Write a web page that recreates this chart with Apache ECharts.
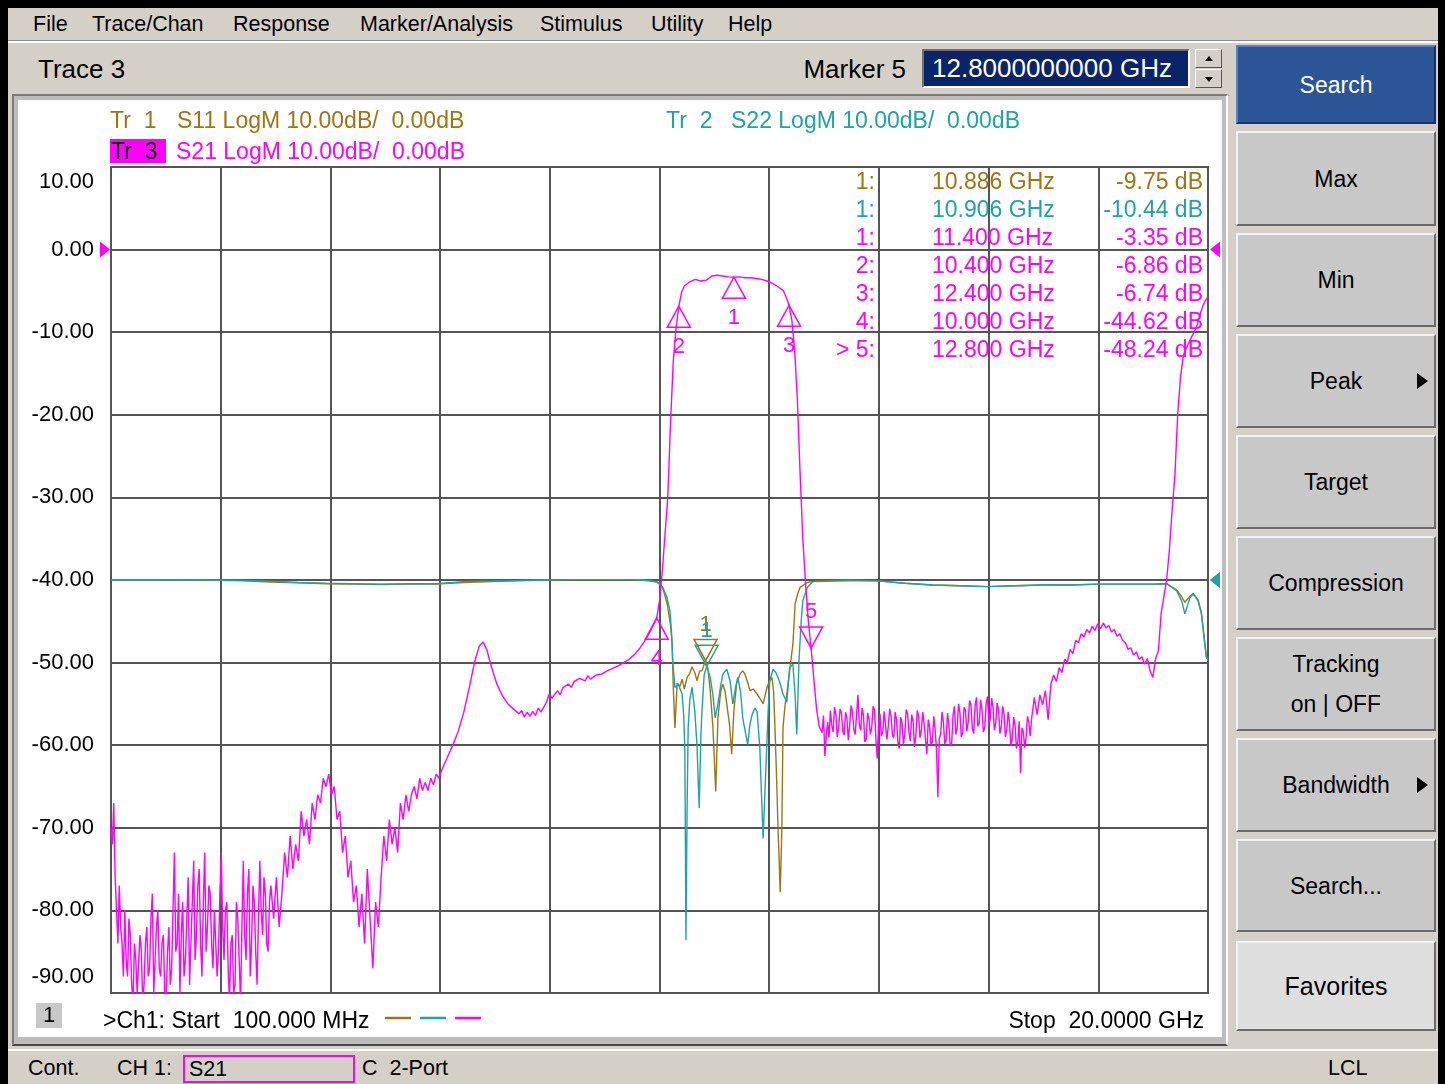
<!DOCTYPE html>
<html>
<head>
<meta charset="utf-8">
<title>PNA - S21 sweep</title>
<script src="https://cdn.jsdelivr.net/npm/echarts@6/dist/echarts.min.js"></script>
<style>
  body { margin: 0; width: 1445px; height: 1084px; background: #000; overflow: hidden;
         font-family: "Liberation Sans", Arial, sans-serif; color: #000; }
  .abs { position: absolute; white-space: nowrap; }
  #win { position: absolute; left: 8px; top: 8px; width: 1430px; height: 1076px; background: #d4d0c8; }
  #menuSep { position: absolute; left: 8px; top: 40px; width: 1430px; height: 1px; background: #8a8a8a; border-bottom: 2px solid #fff; }
  .menu { top: 11px; font-size: 21.5px; line-height: 26px; }
  .big { font-size: 26px; line-height: 30px; }
  #mkBox { left: 922px; top: 49px; width: 268px; height: 39px; box-sizing: border-box; background: #0a246a; color: #fff;
           border: 2px solid; border-color: #6f6f6f #fff #fff #6f6f6f; padding-left: 8px; font-size: 26px; line-height: 34px; }
  .spin { left: 1195px; width: 27px; height: 19px; box-sizing: border-box; background: #d4d0c8;
          border: 1px solid; border-color: #fff #555 #555 #fff; }
  .spin i { position: absolute; left: 9px; width: 0; height: 0; border-left: 4px solid transparent; border-right: 4px solid transparent; }
  .btn { position: absolute; left: 1236px; width: 200px; box-sizing: border-box; background: #c8c8c8;
         border: 2px solid; border-color: #f2f2f2 #6a6a6a #6a6a6a #f2f2f2; font-size: 23px;
         display: flex; align-items: center; justify-content: center; text-align: center; line-height: 40px; }
  .btn .arr { position: absolute; right: 6px; top: 50%; margin-top: -8px; width: 0; height: 0;
              border-top: 8px solid transparent; border-bottom: 8px solid transparent; border-left: 11px solid #000; }
  #chartWin { position: absolute; left: 12px; top: 94px; width: 1216px; height: 952px; box-sizing: border-box;
              background: #bdbdbd; border: 2px solid; border-color: #7a7a7a #fff #4a4a4a #7a7a7a; }
  #chart { position: absolute; left: 18px; top: 100px; width: 1204px; height: 937px; background: #fff; }
  #status { position: absolute; left: 8px; top: 1049px; width: 1430px; height: 35px; background: #d4d0c8; border-top: 2px solid #fff; }
  .st { top: 1055px; font-size: 21.5px; line-height: 26px; }
  #measBox { left: 183px; top: 1055px; width: 172px; height: 28px; box-sizing: border-box; border: 2px solid #ff00ff; padding-left: 4px; font-size: 21.5px; line-height: 24px; }
</style>
</head>
<body>
<div id="win"></div>
<div id="menuSep"></div>
<div id="menuBar"></div>
<div class="abs big" style="left:38px;top:54px;">Trace 3</div>
<div class="abs big" style="left:700px;width:206px;text-align:right;top:54px;">Marker 5</div>
<div class="abs" id="mkBox">12.8000000000 GHz</div>
<div class="abs spin" style="top:49px;"><i style="top:6px;border-bottom:5px solid #000;"></i></div>
<div class="abs spin" style="top:69px;"><i style="top:7px;border-top:5px solid #000;"></i></div>
<div id="panel"></div>
<div id="chartWin"></div>
<div id="chart"></div>
<div id="status"></div>
<div class="abs st" style="left:28px;">Cont.</div>
<div class="abs st" style="left:117px;">CH 1:</div>
<div class="abs" id="measBox">S21</div>
<div class="abs st" style="left:362px;">C&nbsp; 2-Port</div>
<div class="abs st" style="left:1328px;">LCL</div>

<script>
// ---- sweep / scale settings ----
const startGHz = 0.1;
const stopGHz = 20;
const scaleMin = -90;     // S21 scale, 10 dB/div, ref 0 dB at 9th line
const scaleMax = 10;
const reflMin = -50;      // S11/S22 scale, 10 dB/div, ref 0 dB at center line
const reflMax = 50;

// ---- menus and softkeys ----
const menuItems = ['File', 'Trace/Chan', 'Response', 'Marker/Analysis', 'Stimulus', 'Utility', 'Help'];
const menuX = [33, 92, 233, 360, 540, 651, 728];
const softkeys = ['Search', 'Max', 'Min', 'Peak', 'Target', 'Compression', 'Tracking<br>on | OFF', 'Bandwidth', 'Search...', 'Favorites'];
const softkeyTop = [45, 131, 233, 334, 435, 536, 637, 738, 839, 941];
const softkeyH = [79, 95, 94, 94, 94, 94, 94, 94, 93, 90];
const softkeyArrow = [false, false, false, true, false, false, false, true, false, false];

// ---- traces (GHz, dB) ----
const s21 = [
  [0.100,-70],[0.125,-72],[0.150,-67],[0.175,-76],[0.200,-80],[0.225,-84],[0.250,-77],[0.275,-82],[0.300,-84],[0.325,-88],
  [0.350,-80],[0.375,-86],[0.400,-88],[0.425,-81],[0.450,-83],[0.475,-89],[0.500,-91],[0.525,-84],[0.550,-86],[0.575,-90],
  [0.600,-90],[0.625,-83],[0.650,-85],[0.675,-91],[0.700,-89],[0.725,-84],[0.750,-82],[0.775,-88],[0.800,-87],[0.825,-81],
  [0.850,-78],[0.875,-90],[0.900,-86],[0.925,-82],[0.950,-80],[0.975,-87],[1.000,-88],[1.025,-84],[1.050,-83],[1.075,-90],
  [1.100,-91],[1.125,-85],[1.150,-82],[1.175,-89],[1.200,-87],[1.225,-80],[1.250,-73],[1.275,-85],[1.300,-84],[1.325,-78],
  [1.350,-90],[1.375,-83],[1.400,-79],[1.425,-88],[1.450,-86],[1.475,-81],[1.500,-76],[1.525,-89],[1.550,-84],[1.575,-79],
  [1.600,-74],[1.625,-86],[1.650,-83],[1.675,-77],[1.700,-75],[1.725,-84],[1.750,-88],[1.775,-79],[1.800,-73],[1.825,-85],
  [1.850,-82],[1.875,-77],[1.900,-78],[1.925,-84],[1.950,-87],[1.975,-80],[2.000,-80],[2.025,-88],[2.050,-85],[2.075,-78],
  [2.100,-73],[2.125,-82],[2.150,-86],[2.175,-80],[2.200,-79],[2.225,-87],[2.250,-91],[2.275,-84],[2.300,-83],[2.325,-90],
  [2.350,-89],[2.375,-79],[2.400,-81],[2.425,-86],[2.450,-91],[2.475,-82],[2.500,-74],[2.525,-83],[2.550,-86],[2.575,-78],
  [2.600,-75],[2.625,-88],[2.650,-84],[2.675,-77],[2.700,-79],[2.725,-85],[2.750,-89],[2.775,-81],[2.800,-74],[2.825,-80],
  [2.850,-83],[2.875,-76],[2.900,-78],[2.925,-84],[2.950,-85],[2.975,-79],[3.000,-77],[3.05,-81],
  [3.10,-76],[3.15,-82],[3.20,-78],[3.25,-73],[3.30,-76],[3.35,-71],[3.40,-75],[3.45,-72],[3.50,-74],[3.55,-68],
  [3.60,-71],[3.65,-69],[3.70,-72],[3.75,-67],[3.80,-69],[3.85,-66],[3.90,-67],[3.95,-64],[4.00,-65],[4.05,-63.5],
  [4.10,-66],[4.15,-65],[4.20,-69],[4.25,-68],[4.30,-73],[4.35,-71],[4.40,-76],[4.45,-74],[4.50,-79],[4.55,-77],
  [4.60,-82],[4.65,-78],[4.70,-84],[4.75,-75],[4.80,-81],[4.85,-87],[4.90,-79],[4.95,-82],[5.00,-76],[5.05,-71],
  [5.10,-74],[5.15,-69],[5.20,-72],[5.25,-70],[5.30,-73],[5.35,-67],[5.40,-69],[5.45,-66],[5.50,-68],[5.55,-66],
  [5.60,-65],[5.65,-66.5],[5.70,-64],[5.75,-65.5],[5.80,-64.5],[5.85,-65.5],[5.90,-64],[5.95,-64.8],[6.00,-63.5],[6.05,-64],
  [6.10,-63],[6.20,-61.5],[6.30,-60],[6.40,-58.3],[6.50,-56],[6.60,-53],[6.70,-49.8],[6.78,-48],[6.85,-47.5],[6.92,-48.5],
  [7.00,-50.5],[7.10,-52.6],[7.20,-54],[7.30,-55],[7.40,-55.6],[7.50,-56.2],[7.55,-55.8],[7.60,-56.6],[7.65,-56],[7.70,-56.5],
  [7.75,-55.9],[7.80,-56.4],[7.85,-55.5],[7.90,-56],[8.00,-54.8],[8.05,-53.8],[8.10,-54.3],[8.20,-53.4],[8.25,-53.9],[8.30,-53],
  [8.40,-52.6],[8.45,-53],[8.50,-52.3],[8.60,-51.9],[8.70,-52.2],[8.75,-51.6],[8.80,-52],[8.90,-51.5],[9.00,-51.4],[9.10,-51],
  [9.20,-50.7],[9.30,-50.4],[9.40,-50],[9.50,-49.6],[9.60,-49],[9.70,-48.2],[9.80,-47.2],[9.90,-46],[10.00,-44.62],[10.05,-42.5],
  [10.10,-39],[10.15,-34.5],[10.20,-30],[10.25,-21],[10.30,-13.5],[10.35,-9.5],[10.40,-6.86],[10.45,-5.2],[10.50,-4.4],[10.60,-3.9],
  [10.70,-3.6],[10.80,-3.8],[10.90,-3.7],[11.00,-3.2],[11.10,-3.1],[11.20,-3.2],[11.30,-3.3],[11.40,-3.35],[11.50,-3.3],[11.60,-3.4],
  [11.70,-3.4],[11.80,-3.5],[11.90,-3.6],[12.00,-3.8],[12.10,-4.1],[12.20,-4.5],[12.30,-5.0],[12.35,-5.8],[12.40,-6.74],[12.45,-8.5],
  [12.50,-12],[12.55,-18],[12.60,-27],[12.65,-35],[12.70,-40.5],[12.75,-45],[12.80,-48.24],[12.85,-52],[12.90,-55.7],[12.95,-57.8],
  [13.000,-58.5],[13.025,-56.4],[13.050,-61.3],[13.075,-58.9],[13.100,-57.2],[13.125,-59.1],[13.150,-55.8],[13.175,-57.6],[13.200,-58.4],[13.225,-55.4],
  [13.250,-56.3],[13.275,-59.0],[13.300,-57.9],[13.325,-55.6],[13.350,-56.1],[13.375,-58.3],[13.400,-58.8],[13.425,-56.0],[13.450,-56.7],[13.475,-59.4],
  [13.500,-57.6],[13.525,-55.2],[13.550,-55.9],[13.575,-58.1],[13.600,-58.7],[13.625,-56.3],[13.650,-53.9],[13.675,-57.5],[13.700,-58.2],[13.725,-55.5],
  [13.750,-56.4],[13.775,-59.6],[13.800,-59.3],[13.825,-56.1],[13.850,-56.8],[13.875,-58.7],[13.900,-57.9],[13.925,-55.3],[13.950,-55.7],[13.975,-59.2],
  [14.000,-61.6],[14.025,-57.4],[14.050,-56.2],[14.075,-58.9],[14.100,-58.4],[14.125,-55.9],[14.150,-55.8],[14.175,-59.3],[14.200,-57.7],[14.225,-55.6],
  [14.250,-56.5],[14.275,-58.8],[14.300,-59.1],[14.325,-56.0],[14.350,-56.9],[14.375,-59.7],[14.400,-60.4],[14.425,-56.6],[14.450,-57.3],[14.475,-59.9],
  [14.500,-58.6],[14.525,-55.7],[14.550,-56.2],[14.575,-58.4],[14.600,-59.5],[14.625,-56.3],[14.650,-57.1],[14.675,-60.2],[14.700,-58.9],[14.725,-55.8],
  [14.750,-56.4],[14.775,-59.1],[14.800,-58.2],[14.825,-56.0],[14.850,-57.4],[14.875,-59.3],[14.900,-61.1],[14.925,-56.9],[14.950,-57.8],[14.975,-60.0],
  [15.000,-59.6],[15.025,-56.5],[15.050,-58.1],[15.075,-60.6],[15.100,-66.3],[15.125,-59.2],[15.150,-58.7],[15.175,-56.0],[15.200,-57.2],[15.225,-59.9],
  [15.250,-59.4],[15.275,-56.1],[15.300,-57.6],[15.325,-60.1],[15.350,-59.8],[15.375,-56.4],[15.400,-55.3],[15.425,-58.7],[15.450,-57.9],[15.475,-55.0],
  [15.500,-56.1],[15.525,-59.0],[15.550,-58.5],[15.575,-55.4],[15.600,-55.8],[15.625,-58.3],[15.650,-57.2],[15.675,-54.6],[15.700,-55.1],[15.725,-58.0],
  [15.750,-58.6],[15.775,-55.2],[15.800,-54.2],[15.825,-57.7],[15.850,-57.4],[15.875,-54.5],[15.900,-55.6],[15.925,-58.4],[15.950,-57.9],[15.975,-55.0],
  [16.000,-54.1],[16.025,-57.5],[16.050,-56.8],[16.075,-54.3],[16.100,-55.4],[16.125,-58.2],[16.150,-57.3],[16.175,-54.9],[16.200,-55.7],[16.225,-58.6],
  [16.250,-57.8],[16.275,-55.3],[16.300,-56.2],[16.325,-59.0],[16.350,-58.1],[16.375,-56.0],[16.400,-57.4],[16.425,-60.1],[16.450,-59.2],[16.475,-56.6],
  [16.500,-57.6],[16.525,-60.4],[16.550,-59.6],[16.575,-57.1],[16.600,-63.4],[16.625,-57.9],[16.650,-58.4],[16.675,-60.3],[16.700,-59.1],[16.725,-56.5],
  [16.750,-57.2],[16.775,-58.9],[16.800,-56.8],[16.85,-54.2],[16.90,-56.3],[16.95,-53.9],
  [17.00,-55.1],[17.05,-53.4],[17.10,-56.9],[17.15,-52.6],[17.20,-51.5],[17.25,-52.3],[17.30,-50.6],[17.35,-51.2],[17.40,-49.6],[17.45,-49.9],
  [17.50,-48.4],[17.55,-48.9],[17.60,-47.3],[17.65,-47.6],[17.70,-46.5],[17.75,-46.9],[17.80,-46.0],[17.85,-46.4],[17.90,-45.6],[17.95,-46.1],
  [18.00,-45.3],[18.05,-45.9],[18.10,-45.2],[18.15,-45.8],[18.20,-45.5],[18.25,-46.3],[18.30,-46.0],[18.35,-46.8],[18.40,-46.5],[18.45,-47.3],
  [18.50,-47.6],[18.55,-48.4],[18.60,-48.2],[18.65,-49.1],[18.70,-48.7],[18.75,-49.6],[18.80,-49.3],[18.85,-50.2],[18.90,-49.5],[18.95,-51.0],
  [19.00,-51.8],[19.05,-49.5],[19.10,-48.6],[19.15,-44.0],[19.20,-42.0],[19.25,-40.0],[19.30,-36.3],[19.35,-31.5],[19.40,-27.3],[19.45,-20.0],
  [19.50,-15.5],[19.55,-13.0],[19.60,-12.0],[19.65,-11.3],[19.70,-10.6],[19.75,-10.0],[19.80,-9.2],[19.85,-8.0],[19.90,-6.9],[19.95,-6.2],
  [20.00,-5.7]
];

const s11 = [
  [0.10,0],[1.00,0],[2.00,-0.05],[2.50,-0.1],[3.00,-0.25],[3.50,-0.35],[4.00,-0.45],[4.50,-0.5],[5.00,-0.55],[5.50,-0.5],
  [6.00,-0.5],[6.50,-0.3],[7.00,-0.2],[7.50,-0.1],[8.00,0],[8.50,0.05],[9.00,0.05],[9.50,0.05],[9.70,0],[9.85,-0.1],
  [9.95,-0.2],[10.00,-0.2],[10.06,-0.4],[10.12,-1.2],[10.19,-2.9],[10.25,-5.5],[10.28,-7.8],[10.30,-13.0],[10.33,-17.9],[10.37,-12.5],
  [10.42,-12.9],[10.46,-12.0],[10.50,-13.2],[10.55,-11.8],[10.60,-11.3],[10.64,-10.5],[10.69,-11.2],[10.73,-12.2],[10.78,-11.0],[10.82,-11.0],
  [10.886,-9.75],[10.93,-10.8],[10.97,-13.4],[11.02,-17.9],[11.07,-25.6],[11.11,-16.7],[11.16,-13.5],[11.20,-12.6],[11.24,-13.5],[11.27,-15.0],
  [11.32,-17.5],[11.36,-21.1],[11.40,-15.8],[11.45,-12.5],[11.51,-11.4],[11.56,-11.0],[11.60,-11.4],[11.65,-12.4],[11.69,-13.4],[11.75,-13.2],
  [11.82,-13.8],[11.87,-14.3],[11.93,-15.0],[12.00,-13.0],[12.05,-12.2],[12.09,-11.8],[12.12,-13.5],[12.14,-17.0],[12.17,-23.0],[12.20,-30.0],
  [12.24,-37.8],[12.27,-30.0],[12.29,-17.9],[12.33,-15.0],[12.36,-13.8],[12.41,-11.0],[12.47,-7.8],[12.51,-2.9],[12.56,-1.6],[12.60,-0.9],
  [12.73,-0.3],[12.91,-0.1],[13.50,0],[14.00,-0.1],[14.50,-0.4],[15.00,-0.6],[15.50,-0.7],[16.00,-0.8],[16.50,-0.7],[17.00,-0.6],
  [17.50,-0.6],[18.00,-0.5],[18.50,-0.5],[19.00,-0.5],[19.25,-0.45],[19.43,-1.2],[19.52,-2.0],[19.58,-2.7],[19.67,-2.0],[19.73,-1.6],
  [19.82,-2.4],[19.88,-3.9],[19.92,-6.3],[19.97,-9.2],[20.00,-9.8]
];

const s22 = [
  [0.10,0],[1.00,0],[2.00,0],[2.50,-0.05],[3.00,-0.15],[3.50,-0.3],[4.00,-0.4],[4.50,-0.45],[5.00,-0.5],[5.50,-0.45],
  [6.00,-0.45],[6.50,-0.2],[7.00,-0.1],[7.50,-0.05],[8.00,0],[8.50,0.05],[9.00,0.05],[9.50,0.05],[9.70,0],[9.85,-0.05],
  [9.95,-0.15],[10.00,-0.3],[10.05,-0.5],[10.11,-0.9],[10.18,-2.0],[10.24,-3.7],[10.27,-6.5],[10.29,-9.8],[10.33,-13.0],[10.39,-12.6],
  [10.46,-13.8],[10.49,-16.5],[10.51,-20.7],[10.53,-43.6],[10.55,-28.0],[10.57,-17.9],[10.60,-14.5],[10.64,-13.0],[10.69,-15.8],[10.73,-20.0],
  [10.77,-27.6],[10.80,-19.0],[10.82,-15.9],[10.86,-11.5],[10.906,-10.44],[10.97,-11.8],[11.02,-14.0],[11.06,-16.7],[11.11,-15.0],[11.16,-12.8],
  [11.20,-11.4],[11.27,-10.8],[11.33,-12.2],[11.38,-15.0],[11.43,-13.0],[11.47,-11.8],[11.52,-13.5],[11.56,-16.7],[11.61,-18.5],[11.65,-19.9],
  [11.69,-17.5],[11.73,-16.3],[11.78,-15.5],[11.82,-15.9],[11.87,-20.3],[11.90,-26.0],[11.93,-31.3],[11.96,-26.0],[11.98,-22.8],[12.02,-16.0],
  [12.05,-12.2],[12.11,-10.8],[12.16,-11.2],[12.20,-11.8],[12.25,-12.8],[12.29,-13.8],[12.36,-14.8],[12.41,-10.6],[12.47,-10.2],[12.51,-14.0],
  [12.54,-18.7],[12.58,-9.8],[12.62,-5.0],[12.65,-2.5],[12.73,-0.9],[12.83,-0.2],[13.50,-0.1],[14.00,-0.1],[14.50,-0.4],[15.00,-0.6],
  [15.50,-0.7],[16.00,-0.8],[16.50,-0.7],[17.00,-0.6],[17.50,-0.6],[18.00,-0.5],[18.50,-0.5],[19.00,-0.5],[19.25,-0.45],[19.43,-1.3],
  [19.52,-2.5],[19.58,-4.1],[19.67,-2.2],[19.73,-1.7],[19.82,-2.5],[19.88,-4.1],[19.92,-6.5],[19.97,-9.4],[20.00,-9.6]
];

// ---- markers ----
const markerTrace = ['S11', 'S22', 'S21', 'S21', 'S21', 'S21', 'S21'];
const markerNum = ['1', '1', '1', '2', '3', '4', '5'];
const markerFreq = [10.886, 10.906, 11.400, 10.400, 12.400, 10.000, 12.800];
const markerDb = [-9.75, -10.44, -3.35, -6.86, -6.74, -44.62, -48.24];
const activeMarker = 6;

const FONT = '"Liberation Sans", Arial, sans-serif';
const BROWN = '#a07414';
const TEAL = '#1fa3a3';
const MAGENTA = '#ff00ff';
const traceColor = { S11: BROWN, S22: TEAL, S21: MAGENTA };

// chrome built from the lists above
menuItems.forEach(function (m, i) {
  const d = document.createElement('div');
  d.className = 'abs menu';
  d.style.left = menuX[i] + 'px';
  d.textContent = m;
  document.getElementById('menuBar').appendChild(d);
});
softkeys.forEach(function (s, i) {
  const d = document.createElement('div');
  d.className = 'btn';
  d.style.top = softkeyTop[i] + 'px';
  d.style.height = softkeyH[i] + 'px';
  d.innerHTML = s + (softkeyArrow[i] ? '<span class="arr"></span>' : '');
  if (i === 0) { d.style.background = '#2c5597'; d.style.color = '#fff'; d.style.borderColor = '#5b7fc0 #1a3060 #1a3060 #5b7fc0'; }
  if (i === softkeys.length - 1) { d.style.background = '#dedede'; d.style.fontSize = '25px'; }
  document.getElementById('panel').appendChild(d);
});

// ---- chart ----
const chart = echarts.init(document.getElementById('chart'));

const UP_TRI = 'path://M11,0L22,22L0,22Z';
const DOWN_TRI = 'path://M0,0L22,0L11,22Z';
const ARROW_R = 'path://M0,0L10,8L0,16Z';
const ARROW_L = 'path://M10,0L10,16L0,8Z';

function markerPoints(trace) {
  const pts = [];
  markerTrace.forEach(function (t, i) {
    if (t !== trace) return;
    const down = (t !== 'S21') || i === activeMarker;
    pts.push({
      name: markerNum[i],
      coord: [markerFreq[i], markerDb[i]],
      symbol: down ? DOWN_TRI : UP_TRI,
      symbolSize: [23, 21],
      symbolOffset: down ? [0, -10.5] : [0, 10.5],
      label: { position: down ? 'top' : 'bottom', distance: down ? 3 : 8 }
    });
  });
  return pts;
}

function refArrow(value, left, color) {
  return {
    coord: [left ? startGHz : stopGHz, value],
    symbol: left ? ARROW_R : ARROW_L,
    symbolSize: [10, 16],
    symbolOffset: left ? [-6, 0] : [7, 0],
    itemStyle: { color: color, borderWidth: 0 },
    label: { show: false }
  };
}

function traceSeries(name, data, axis, color, marks) {
  return {
    name: name,
    type: 'line',
    data: data,
    yAxisIndex: axis,
    showSymbol: false,
    clip: true,
    lineStyle: { color: color, width: 1.4 },
    itemStyle: { color: color },
    markPoint: {
      silent: true,
      itemStyle: { color: 'rgba(0,0,0,0)', borderColor: color, borderWidth: 1.5 },
      label: { show: true, formatter: '{b}', color: color, fontSize: 22, fontFamily: FONT },
      data: marks
    }
  };
}

// legend lines, marker readout, stimulus
const txt = function (text, x, y, color, align, size) {
  return { type: 'text', x: x, y: y + 2, z: 50, silent: true,
           style: { text: text, fill: color, font: (size || 23) + 'px ' + FONT, align: align || 'left', verticalAlign: 'middle' } };
};
const graphics = [
  txt('Tr  1', 92, 20, BROWN), txt('S11 LogM 10.00dB/  0.00dB', 159, 20, BROWN),
  txt('Tr  2', 648, 20, TEAL), txt('S22 LogM 10.00dB/  0.00dB', 713, 20, TEAL),
  { type: 'rect', shape: { x: 92, y: 39, width: 56, height: 24 }, style: { fill: MAGENTA }, z: 49, silent: true },
  txt('Tr  3', 93, 51, '#000'), txt('S21 LogM 10.00dB/  0.00dB', 158, 51, MAGENTA),
  { type: 'rect', shape: { x: 18, y: 903, width: 26, height: 25 }, style: { fill: '#c8c8c8' }, z: 49, silent: true },
  txt('1', 31, 914, '#000', 'center', 22),
  txt('>Ch1: Start  ' + (startGHz * 1000).toFixed(3) + ' MHz', 85, 920, '#000'),
  txt('Stop  ' + stopGHz.toFixed(4) + ' GHz', 1186, 920, '#000', 'right')
];
[BROWN, TEAL, MAGENTA].forEach(function (c, i) {
  const x0 = [367, 402, 437][i];
  graphics.push({ type: 'line', shape: { x1: x0, y1: 918, x2: x0 + 26, y2: 918 }, style: { stroke: c, lineWidth: 2.5 }, z: 49, silent: true });
});
markerNum.forEach(function (n, i) {
  const c = traceColor[markerTrace[i]];
  const y = 81 + 28 * i;
  graphics.push(txt((i === activeMarker ? '> ' : '') + n + ':', 857, y, c, 'right'));
  graphics.push(txt(markerFreq[i].toFixed(3) + ' GHz', 914, y, c, 'left'));
  graphics.push(txt(markerDb[i].toFixed(2) + ' dB', 1185, y, c, 'right'));
});

const option = {
  animation: false,
  backgroundColor: '#fff',
  grid: { left: 93, top: 67, width: 1097, height: 826, show: true, borderColor: '#555', borderWidth: 2, backgroundColor: '#fff' },
  xAxis: {
    type: 'value', min: startGHz, max: stopGHz, interval: (stopGHz - startGHz) / 10,
    axisLine: { show: false }, axisTick: { show: false }, axisLabel: { show: false },
    splitLine: { show: true, lineStyle: { color: '#555', width: 2 } }
  },
  yAxis: [
    {
      type: 'value', min: scaleMin, max: scaleMax, interval: 10,
      axisLine: { show: false }, axisTick: { show: false },
      splitLine: { show: true, lineStyle: { color: '#555', width: 2 } },
      axisLabel: {
        color: '#000', fontSize: 22, fontFamily: FONT, margin: 17,
        formatter: function (v) {
          if (v === scaleMax) return '{top|' + v.toFixed(2) + '}';
          if (v === scaleMin) return '{bot|' + v.toFixed(2) + '}';
          return v.toFixed(2);
        },
        rich: {
          top: { padding: [30, 0, 0, 0], fontSize: 22, fontFamily: FONT, color: '#000' },
          bot: { padding: [0, 0, 32, 0], fontSize: 22, fontFamily: FONT, color: '#000' }
        }
      }
    },
    { type: 'value', min: reflMin, max: reflMax, interval: 10, show: false, splitLine: { show: false } }
  ],
  series: [
    traceSeries('S11', s11, 1, BROWN, markerPoints('S11').concat([refArrow(0, false, BROWN)])),
    traceSeries('S22', s22, 1, TEAL, markerPoints('S22').concat([refArrow(0, false, TEAL)])),
    traceSeries('S21', s21, 0, MAGENTA, markerPoints('S21').concat([refArrow(0, true, MAGENTA), refArrow(0, false, MAGENTA)]))
  ],
  graphic: graphics
};
chart.setOption(option);
</script>
</body>
</html>
